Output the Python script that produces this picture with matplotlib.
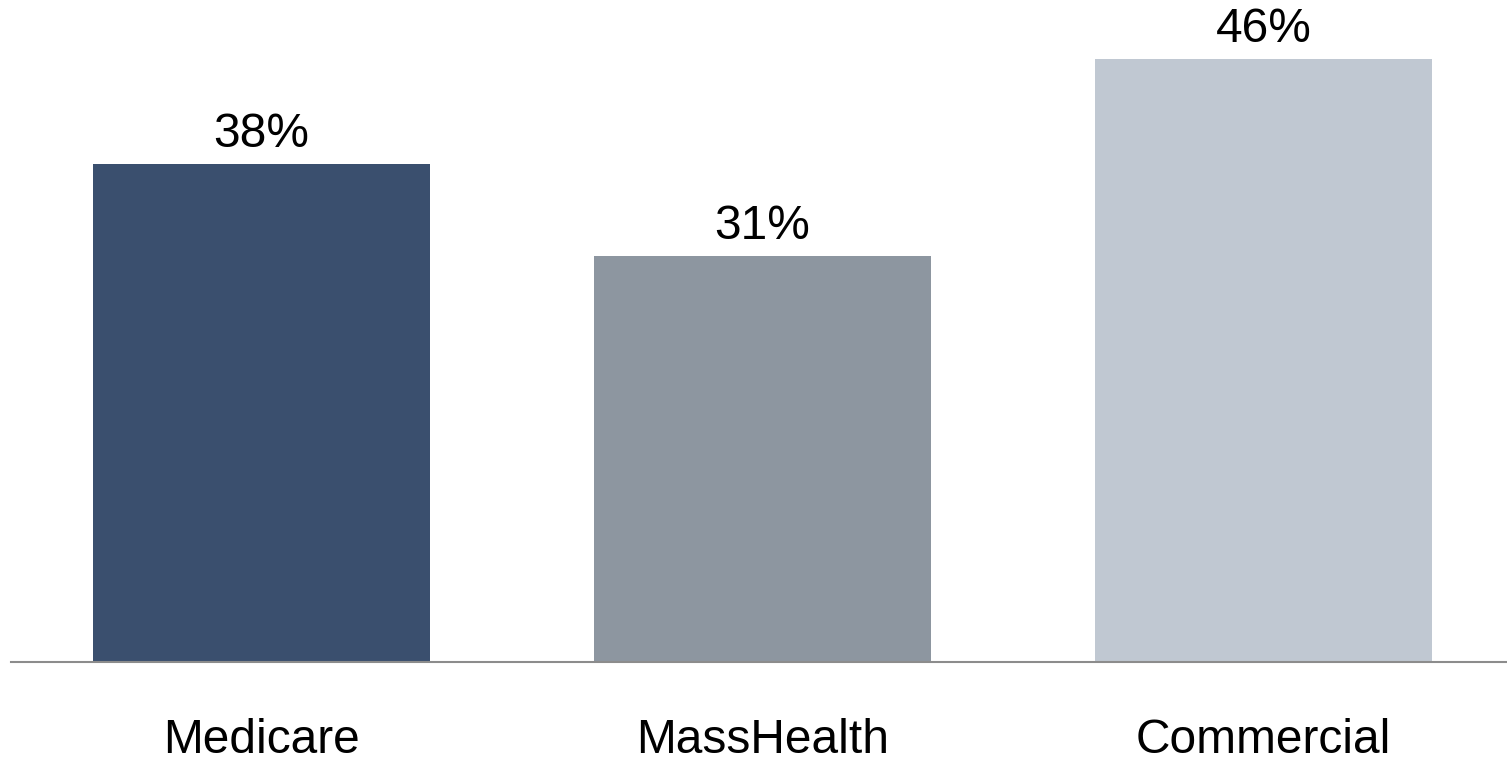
import matplotlib
matplotlib.use("Agg")
import matplotlib.pyplot as plt

categories = ["Medicare", "MassHealth", "Commercial"]
values = [38, 31, 46]
colors = ["#3A4F6E", "#8D96A0", "#C0C8D2"]

plt.rcParams['font.family'] = ['Liberation Sans', 'DejaVu Sans']

W, H = 1507, 758
fig = plt.figure(figsize=(W/100, H/100), dpi=100)
base_y = 662
top_y = 59
ax = fig.add_axes([11/W, (H - base_y)/H, 1 - 11/W, (base_y - 0)/H])
px_per_unit = (base_y - top_y) / 46.0
ax.set_ylim(0, base_y / px_per_unit)
spacing = 501.0
x0 = 261.5
ax.set_xlim((11 - x0)/spacing, (W - x0)/spacing)

xs = list(range(len(categories)))
ax.bar(xs, values, width=337/spacing, color=colors)
for x, v in zip(xs, values):
    ax.annotate(f"{v}%", (x, v), xytext=(0, 5), textcoords="offset points",
                ha="center", va="bottom", fontsize=34.5, color="black")

for s in ["top", "right", "left"]:
    ax.spines[s].set_visible(False)
ax.spines["bottom"].set_color("#8C8C8C")
ax.spines["bottom"].set_linewidth(1.5)
ax.set_yticks([])
ax.set_xticks(xs)
ax.set_xticklabels(categories, fontsize=34.5)
ax.tick_params(axis="x", length=0, pad=40)

fig.savefig("out.png", dpi=100)
